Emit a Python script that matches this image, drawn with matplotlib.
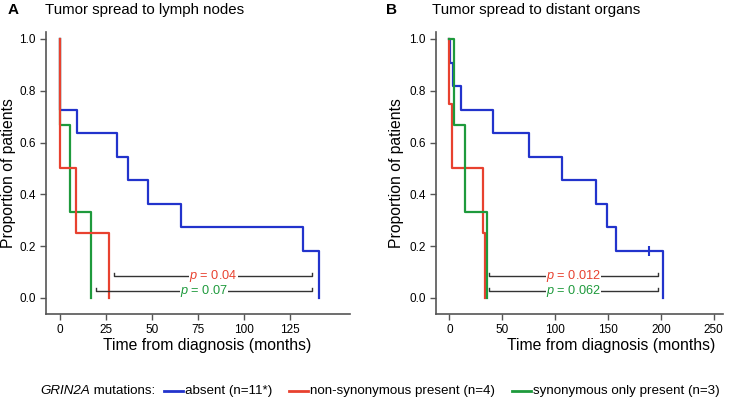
import matplotlib
matplotlib.use("Agg")
import matplotlib.pyplot as plt
from matplotlib.lines import Line2D

plt.rcParams['font.family'] = ['Liberation Sans', 'DejaVu Sans']
plt.rcParams['mathtext.fontset'] = 'custom'
plt.rcParams['mathtext.it'] = 'Liberation Sans:italic'
plt.rcParams['mathtext.rm'] = 'Liberation Sans'

# ---------------------------
# data
# ---------------------------
BLUE = '#2233cc'
RED = '#e8412f'
GREEN = '#1e9a3c'

# panel A: tumor spread to lymph nodes
a_blue_t = [0, 0, 9, 31, 37, 48, 66, 132, 140.5]
a_blue_s = [1, 0.727, 0.636, 0.545, 0.455, 0.364, 0.273, 0.182, 0]
a_green_t = [0, 0, 5.4, 16.7]
a_green_s = [1, 0.667, 0.333, 0]
a_red_t = [0, 0, 8.7, 26.6]
a_red_s = [1, 0.5, 0.25, 0]
a_xticks = [0, 25, 50, 75, 100, 125]
a_pvals = ['0.04', '0.07']
a_brackets = [(29.5, 137), (19.4, 137)]

# panel B: tumor spread to distant organs
b_blue_t = [0, 0.7, 3.2, 11, 41, 75.6, 106.8, 138.3, 148.7, 157.2, 202]
b_blue_s = [1, 0.909, 0.818, 0.727, 0.636, 0.545, 0.455, 0.364, 0.273, 0.182, 0]
b_blue_censor = [(189, 0.182)]
b_red_t = [0, 0, 2.3, 32, 34]
b_red_s = [1, 0.75, 0.5, 0.25, 0]
b_green_t = [0, 4.4, 14.5, 35.3]
b_green_s = [1, 0.667, 0.333, 0]
b_xticks = [0, 50, 100, 150, 200, 250]
b_pvals = ['0.012', '0.062']
b_brackets = [(37.5, 197.4), (37.5, 197.4)]

bracket_y = [0.085, 0.025]
yticks = [0.0, 0.2, 0.4, 0.6, 0.8, 1.0]

legend_title = 'GRIN2A'
legend_labels = ['absent (n=11*)', 'non-synonymous present (n=4)',
                 'synonymous only present (n=3)']
legend_colors = [BLUE, RED, GREEN]

fig = plt.figure(figsize=(7.29, 4.04), dpi=100)
W, H = 729, 404


def px_axes(x0, x1, y_top, y_bot):
    return fig.add_axes([x0 / W, 1 - y_bot / H, (x1 - x0) / W, (y_bot - y_top) / H])


def style(ax, xlim, xticks, ylab_x, xlab_x):
    ax.set_xlim(*xlim)
    ax.set_ylim(-0.062, 1.027)
    ax.set_xticks(xticks)
    ax.set_yticks(yticks)
    ax.set_yticklabels(['%.1f' % v for v in yticks])
    for s in ['top', 'right']:
        ax.spines[s].set_visible(False)
    for s in ['left', 'bottom']:
        ax.spines[s].set_color('#555555')
        ax.spines[s].set_linewidth(1.2)
    ax.tick_params(colors='#555555', labelcolor='black', labelsize=8.5,
                   length=4, width=1, direction='out')
    ax.set_xlabel('Time from diagnosis (months)', fontsize=11.3)
    ax.set_ylabel('Proportion of patients', fontsize=11.3)
    ax.xaxis.set_label_coords(xlab_x, -0.112)
    ax.xaxis.label.set_va('center')
    ax.yaxis.set_label_coords(ylab_x, 0.5)
    ax.yaxis.label.set_va('center')


def bracket(ax, x0, x1, y, pval, color, tick=0.013):
    ax.plot([x0, x0, x1, x1], [y + tick, y, y, y + tick], color='#333333',
            lw=1.0, zorder=3)
    ax.text((x0 + x1) / 2, y, r'$\it{p}$ = ' + pval, color=color, fontsize=9.2,
            ha='center', va='center', zorder=4,
            bbox=dict(facecolor='white', edgecolor='none', pad=0.2))


# ---------------------------
# Panel A
# ---------------------------
axA = px_axes(46, 350, 32, 314)
axA.step(a_blue_t, a_blue_s, where='post', color=BLUE, lw=1.6)
axA.step(a_green_t, a_green_s, where='post', color=GREEN, lw=1.6)
axA.step(a_red_t, a_red_s, where='post', color=RED, lw=1.6)
style(axA, (-7.6, 157.6), a_xticks, (9 - 46) / 304, 0.531)
for (x0, x1), y, p, c in zip(a_brackets, bracket_y, a_pvals, [RED, GREEN]):
    bracket(axA, x0, x1, y, p, c)

# ---------------------------
# Panel B
# ---------------------------
axB = px_axes(436, 723, 32, 314)
axB.step(b_blue_t, b_blue_s, where='post', color=BLUE, lw=1.6)
axB.step(b_red_t, b_red_s, where='post', color=RED, lw=1.6)
axB.step(b_green_t, b_green_s, where='post', color=GREEN, lw=1.6)
axB.plot([c[0] for c in b_blue_censor], [c[1] for c in b_blue_censor],
         marker='|', ms=7, mew=1.5, color=BLUE, ls='none')
style(axB, (-12.6, 258.8), b_xticks, (396 - 436) / 287, 0.609)
for (x0, x1), y, p, c in zip(b_brackets, bracket_y, b_pvals, [RED, GREEN]):
    bracket(axB, x0, x1, y, p, c)

# panel letters and titles
fig.text(8 / W, 1 - 10 / H, 'A', fontsize=11, fontweight='bold', va='center')
fig.text(45 / W, 1 - 10 / H, 'Tumor spread to lymph nodes', fontsize=10.8, va='center')
fig.text(386 / W, 1 - 10 / H, 'B', fontsize=11, fontweight='bold', va='center')
fig.text(432 / W, 1 - 10 / H, 'Tumor spread to distant organs', fontsize=10.8, va='center')

# ---------------------------
# Legend at bottom (laid out left to right)
# ---------------------------
renderer = fig.canvas.get_renderer()
ly = 1 - 391 / H
fs = 9.6
x = 40.0


def put(txt, x, **kw):
    t = fig.text(x / W, ly, txt, fontsize=fs, va='center', **kw)
    return x + t.get_window_extent(renderer).width


x = put(legend_title, x, style='italic')
x = put(' mutations:', x)
x += 9
for lab, c in zip(legend_labels, legend_colors):
    fig.add_artist(Line2D([x / W, (x + 19) / W], [ly, ly], color=c, lw=2))
    x = put(lab, x + 21)
    x += 17

fig.savefig('out.png', dpi=100)
